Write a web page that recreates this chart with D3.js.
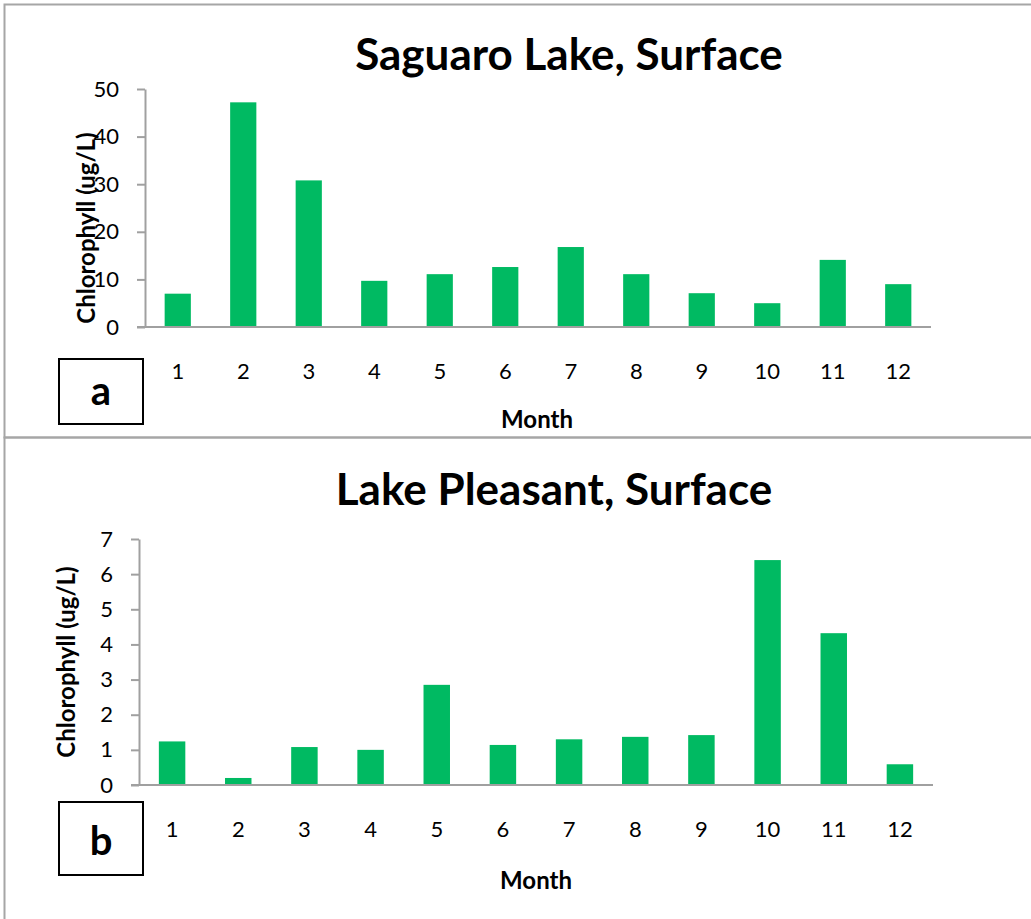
<!DOCTYPE html>
<html><head><meta charset="utf-8">
<script src="https://cdn.jsdelivr.net/npm/d3@7"></script>
<style>html,body{margin:0;padding:0;background:#fff;}svg{display:block;}</style>
</head><body>
<svg id="c" width="1031" height="919"></svg>
<script>
const months = ["1","2","3","4","5","6","7","8","9","10","11","12"];
const saguaroValues = [7.0, 47.2, 30.8, 9.7, 11.1, 12.6, 16.8, 11.1, 7.1, 5.0, 14.1, 9.0];
const pleasantValues = [1.24, 0.2, 1.08, 1.0, 2.85, 1.14, 1.3, 1.37, 1.42, 6.4, 4.32, 0.59];
const saguaroTicks = [0, 10, 20, 30, 40, 50];
const pleasantTicks = [0, 1, 2, 3, 4, 5, 6, 7];
const titles = ["Saguaro Lake, Surface", "Lake Pleasant, Surface"];
const panelLetters = ["a", "b"];
const xTitle = "Month";
const yTitle = "Chlorophyll (ug/L)";

const svg = d3.select("#c");
const font = "Lato, 'Open Sans', sans-serif";
const green = "#00BA62";
const axisGray = "#A0A0A0";

// panel frames
svg.append("rect").attr("x",4.5).attr("y",4.5).attr("width",1040).attr("height",433)
  .attr("fill","none").attr("stroke","#A6A6A6").attr("stroke-width",2);
svg.append("rect").attr("x",4.5).attr("y",437.5).attr("width",1040).attr("height",500)
  .attr("fill","none").attr("stroke","#A6A6A6").attr("stroke-width",2);

function panel(cfg){
  const g = svg.append("g");
  const x = d3.scaleBand().domain(months).range([cfg.x0, cfg.x1]).paddingInner(0.6).paddingOuter(0.3);
  const y = d3.scaleLinear().domain([0, cfg.ymax]).range([cfg.y0, cfg.y1]);
  // bars
  g.selectAll("rect.bar").data(cfg.values).join("rect").attr("class","bar")
    .attr("x",(d,i)=>x(months[i])).attr("width",x.bandwidth())
    .attr("y",d=>y(d)).attr("height",d=>y(0)-y(d)).attr("fill",green);
  // y axis
  const ya = g.append("g").attr("transform",`translate(${cfg.x0},0)`)
    .call(d3.axisLeft(y).tickValues(cfg.ticks).tickFormat(d3.format("d")).tickSize(8).tickPadding(18).tickSizeOuter(0));
  ya.select(".domain").attr("stroke",axisGray).attr("stroke-width",2);
  ya.selectAll(".tick line").attr("stroke",axisGray).attr("stroke-width",2);
  ya.selectAll("text").attr("font-family",font).attr("font-size",22).attr("fill","#000");
  // x axis
  const xa = g.append("g").attr("transform",`translate(0,${cfg.y0})`)
    .call(d3.axisBottom(x).tickSize(0).tickPadding(36));
  xa.select(".domain").attr("stroke",axisGray).attr("stroke-width",2)
    .attr("d",`M${cfg.x0-8},0H${cfg.x1}`);
  xa.selectAll("text").attr("font-family",font).attr("font-size",22).attr("fill","#000");
  // y title (drawn before ticks visually overlapping as in original)
  g.append("text").attr("transform",`translate(${cfg.ytx},${cfg.yty}) rotate(-90)`).attr("text-anchor","middle")
    .attr("font-family",font).attr("font-weight","bold").attr("font-size",24).text(yTitle);
  // title
  g.append("text").attr("x",cfg.tx).attr("y",cfg.ty).attr("text-anchor","middle")
    .attr("font-family",font).attr("font-weight","bold").attr("font-size",44).text(cfg.title);
  // x title
  g.append("text").attr("x",cfg.mx).attr("y",cfg.my).attr("text-anchor","middle")
    .attr("font-family",font).attr("font-weight","bold").attr("font-size",24).text(xTitle);
  // letter box
  g.append("rect").attr("x",59).attr("y",cfg.by).attr("width",84).attr("height",cfg.bh)
    .attr("fill","#fff").attr("stroke","#000").attr("stroke-width",2);
  g.append("text").attr("x",101).attr("y",cfg.lb).attr("text-anchor","middle")
    .attr("font-family",font).attr("font-weight","bold").attr("font-size",40).text(cfg.letter);
}

panel({x0:145, x1:931, y0:327, y1:89, ymax:50, values:saguaroValues, ticks:saguaroTicks,
  title:titles[0], tx:569, ty:70, mx:537, my:428, ytx:95, yty:228,
  by:359, bh:65, lb:405, letter:panelLetters[0]});
panel({x0:139, x1:933, y0:785, y1:539, ymax:7, values:pleasantValues, ticks:pleasantTicks,
  title:titles[1], tx:554, ty:505, mx:536, my:889, ytx:75, yty:662,
  by:802, bh:73, lb:855, letter:panelLetters[1]});
</script>
</body></html>
